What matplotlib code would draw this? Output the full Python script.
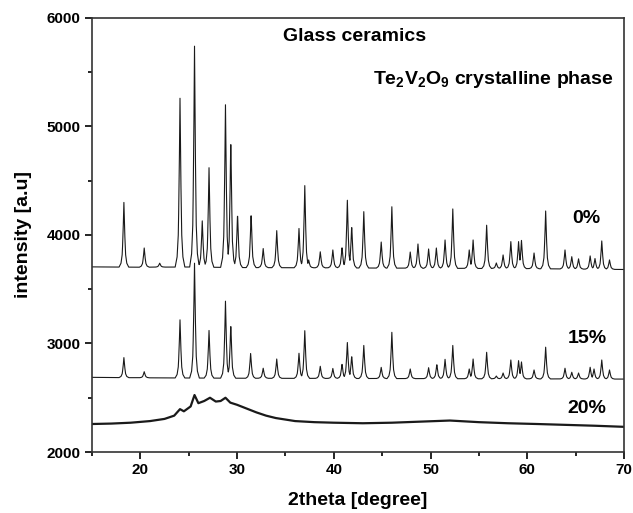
import numpy as np
import matplotlib
matplotlib.use("Agg")
import matplotlib.pyplot as plt
from matplotlib.ticker import MultipleLocator

plt.rcParams['font.family'] = ['Liberation Sans', 'DejaVu Sans']
plt.rcParams['font.weight'] = 'bold'
plt.rcParams['mathtext.fontset'] = 'custom'
plt.rcParams['mathtext.rm'] = 'Liberation Sans:bold'
plt.rcParams['mathtext.bf'] = 'Liberation Sans:bold'
plt.rcParams['mathtext.it'] = 'Liberation Sans:bold'

# ---- data ----
# 0 % sample: peak positions (2theta) and peak-top intensities
pos_0 = [18.3, 20.4, 22.0, 24.1, 25.6, 26.4, 27.1, 28.8, 29.35, 30.05, 31.45, 32.7,
         34.1, 36.4, 37.0, 37.4, 38.6, 39.9, 40.85, 41.4, 41.85, 43.1, 44.9, 46.0,
         47.9, 48.7, 49.8, 50.6, 51.5, 52.3, 54.0, 54.4, 55.8, 56.8, 57.5, 58.3,
         59.1, 59.4, 60.7, 61.9, 63.9, 64.6, 65.3, 66.5, 67.0, 67.7, 68.5]
int_0 = [4300, 3880, 3740, 5260, 5740, 4130, 4620, 5200, 4900, 4200, 4205, 3875,
         4040, 4060, 4455, 3770, 3845, 3862, 3892, 4320, 4090, 4215, 3935, 4260,
         3843, 3917, 3871, 3880, 3954, 4240, 3862, 3954, 4090, 3742, 3816, 3939,
         3939, 3950, 3834, 4221, 3862, 3800, 3780, 3807, 3783, 3945, 3770]
base_x_0 = [15, 20, 25, 30, 40, 50, 60, 70]
base_y_0 = [3706, 3703, 3705, 3700, 3697, 3693, 3690, 3682]

# 15 % sample
pos_15 = [18.3, 20.4, 24.1, 25.6, 27.1, 28.8, 29.35, 31.4, 32.7, 34.1, 36.4, 37.0,
          38.6, 39.9, 40.85, 41.4, 41.85, 43.1, 44.9, 46.0, 47.9, 49.8, 50.65, 51.5,
          52.3, 54.0, 54.4, 55.8, 56.8, 57.5, 58.3, 59.1, 59.4, 60.7, 61.9, 63.9,
          64.6, 65.3, 66.5, 66.9, 67.7, 68.5]
int_15 = [2870, 2740, 3218, 3740, 3120, 3390, 3184, 2908, 2772, 2857, 2910, 3118,
          2790, 2770, 2815, 3009, 2889, 2982, 2780, 3103, 2765, 2777, 2811, 2854,
          2982, 2765, 2857, 2919, 2700, 2728, 2848, 2842, 2830, 2756, 2966, 2772,
          2735, 2728, 2781, 2765, 2848, 2756]
base_x_15 = [15, 20, 25, 30, 40, 50, 60, 70]
base_y_15 = [2688, 2684, 2682, 2680, 2678, 2676, 2674, 2672]

# 20 % sample (amorphous hump)
x_20 = [15, 17, 19, 21, 22.5, 23.5, 24.1, 24.5, 25.2, 25.6, 26.0, 26.6, 27.2, 27.8,
        28.3, 28.8, 29.3, 30, 31, 32, 33, 34, 36, 38, 40, 43, 46, 49, 52, 55,
        58, 61, 64, 67, 70]
y_20 = [2258, 2262, 2270, 2285, 2305, 2335, 2395, 2375, 2420, 2525, 2450, 2470, 2500,
        2465, 2470, 2500, 2455, 2435, 2400, 2365, 2335, 2313, 2285, 2275, 2270,
        2265, 2270, 2280, 2290, 2275, 2265, 2258, 2250, 2242, 2232]

labels = ['0%', '15%', '20%']

# ---- peak profile (drawing style) ----
shape_dx = np.array([-0.5, -0.3, -0.17, -0.08, 0.0, 0.08, 0.17, 0.3, 0.5])
shape_fr = np.array([0.0, 0.06, 0.2, 0.55, 1.0, 0.55, 0.2, 0.06, 0.0])


def profile(pos, ints, bx, by):
    xg = np.arange(15.0, 70.0001, 0.02)
    base = np.interp(xg, bx, by)
    extra = np.zeros_like(xg)
    for p, h in zip(pos, ints):
        hb = h - np.interp(p, bx, by)
        extra = np.maximum(extra, hb * np.interp(xg - p, shape_dx, shape_fr, left=0, right=0))
    return xg, base + extra


fig = plt.figure(figsize=(6.33, 5.13), dpi=100)
ax = fig.add_axes([0.1453, 0.1189, 0.8405, 0.8461])

lc = '#1a1a1a'
x0, y0 = profile(pos_0, int_0, base_x_0, base_y_0)
x15, y15 = profile(pos_15, int_15, base_x_15, base_y_15)
ax.plot(x0, y0, color=lc, lw=0.8)
ax.plot(x15, y15, color=lc, lw=0.8)
ax.plot(x_20, y_20, color=lc, lw=1.6)

ax.set_xlim(15, 70)
ax.set_ylim(2000, 6000)
ax.xaxis.set_major_locator(MultipleLocator(10))
ax.xaxis.set_minor_locator(MultipleLocator(5))
ax.yaxis.set_major_locator(MultipleLocator(1000))
ax.yaxis.set_minor_locator(MultipleLocator(500))
ax.tick_params(which='both', direction='out', top=False, right=False, width=1.2)
ax.tick_params(which='major', length=5, labelsize=11, pad=3)
ax.tick_params(which='minor', length=3)
for lab in ax.get_xticklabels() + ax.get_yticklabels():
    lab.set_fontweight('bold')
for s in ax.spines.values():
    s.set_linewidth(1.2)
    s.set_color('#333333')

ax.set_xlabel('2theta [degree]', fontsize=14, fontweight='bold', labelpad=11)
ax.set_ylabel('intensity [a.u]', fontsize=14, fontweight='bold', labelpad=11)

ax.text(42.1, 5825, 'Glass ceramics', fontsize=14, fontweight='bold', ha='center', va='center')
ax.text(68.9, 5430, r'Te$_{2}$V$_{2}$O$_{9}$ crystalline phase', fontsize=14,
        fontweight='bold', ha='right', va='center')
ax.text(67.6, 4155, labels[0], fontsize=14, fontweight='bold', ha='right', va='center')
ax.text(68.2, 3050, labels[1], fontsize=14, fontweight='bold', ha='right', va='center')
ax.text(68.2, 2405, labels[2], fontsize=14, fontweight='bold', ha='right', va='center')

fig.savefig('out.png', dpi=100)
